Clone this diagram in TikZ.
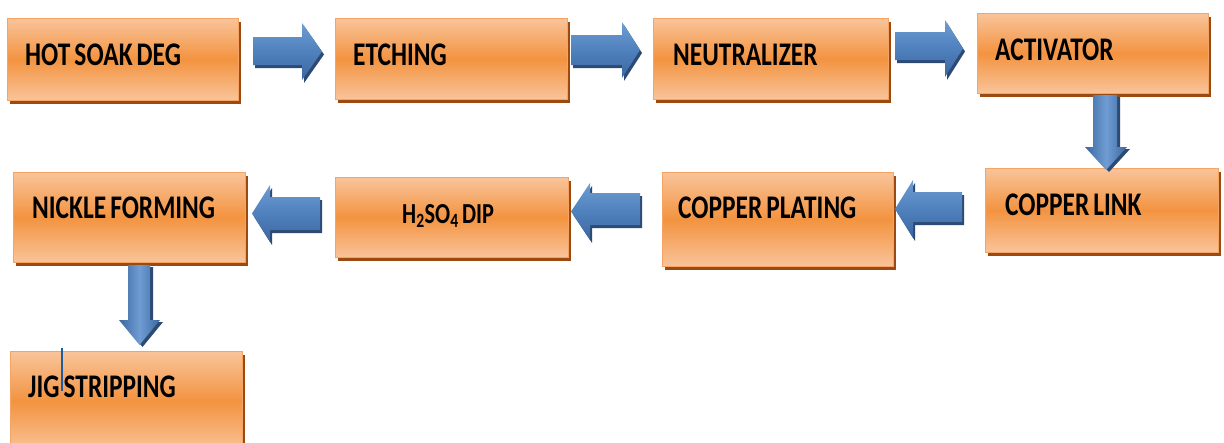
\documentclass[tikz,border=0pt]{standalone}
\usepackage{fontspec}
\setmainfont{Carlito}
\usepackage{graphicx}
\usetikzlibrary{shadows,calc}
\definecolor{boxlight}{HTML}{F9C49A}
\definecolor{boxmid}{HTML}{F39340}
\definecolor{boxborder}{HTML}{F5A465}
\definecolor{boxshadow}{HTML}{9C4A10}
\definecolor{arrlight}{HTML}{6F9DD3}
\definecolor{arrmid}{HTML}{4F81BD}
\definecolor{arrdark}{HTML}{3C67A0}
\definecolor{arrshadow}{HTML}{2C4A74}
\definecolor{cursorblue}{HTML}{1F5C9E}
\newcommand{\sqz}[1]{\scalebox{0.77}[1]{\spaceskip=0.16em\relax #1}}
\newcommand{\myhblock}[7]{%
  \begin{scope}[shift={(2,3)}]
    \fill[arrshadow] (#1,#4) -- (#2,#4) -- (#2,#6) -- (#3,{(#6+#7)/2}) -- (#2,#7) -- (#2,#5) -- (#1,#5) -- cycle;
  \end{scope}
  \shade[top color=arrlight, bottom color=arrdark, middle color=arrmid]
    (#1,#4) -- (#2,#4) -- (#2,#6) -- (#3,{(#6+#7)/2}) -- (#2,#7) -- (#2,#5) -- (#1,#5) -- cycle;}
\newcommand{\myvblock}[7]{%
  \begin{scope}[shift={(3,2)}]
    \fill[arrshadow] (#4,#1) -- (#4,#2) -- (#6,#2) -- ({(#6+#7)/2},#3) -- (#7,#2) -- (#5,#2) -- (#5,#1) -- cycle;
  \end{scope}
  \shade[left color=arrdark, right color=arrdark, middle color=arrlight]
    (#4,#1) -- (#4,#2) -- (#6,#2) -- ({(#6+#7)/2},#3) -- (#7,#2) -- (#5,#2) -- (#5,#1) -- cycle;}
\tikzset{
  procbox/.style={draw=boxborder, line width=0.8pt, anchor=north west, inner sep=0pt,
    top color=boxlight, bottom color=boxlight, middle color=boxmid,
    drop shadow={shadow xshift=3pt, shadow yshift=-4pt, fill=boxshadow, opacity=1}},
  lbl/.style={anchor=base west, inner sep=0pt, text=black,
    font=\fontsize{33}{33}\selectfont\bfseries},
  lblsmall/.style={anchor=base west, inner sep=0pt, text=black,
    font=\fontsize{29}{29}\selectfont\bfseries},
}
\begin{document}
\begin{tikzpicture}[x=1pt,y=-1pt]
\useasboundingbox (0,0) rectangle (1224,442);
\clip (0,0) rectangle (1224,442);
\fill[white] (0,0) rectangle (1224,442);
% boxes
\node[procbox, minimum width=231pt, minimum height=82pt] (b1) at (7,18) {};
\node[procbox, minimum width=232pt, minimum height=81pt] (b2) at (335,18) {};
\node[procbox, minimum width=235pt, minimum height=81pt] (b3) at (653,18) {};
\node[procbox, minimum width=231pt, minimum height=80pt] (b4) at (977,13) {};
\node[procbox, minimum width=233pt, minimum height=84pt] (b5) at (985,168) {};
\node[procbox, minimum width=231pt, minimum height=94pt] (b6) at (662,172) {};
\node[procbox, minimum width=233pt, minimum height=80pt] (b7) at (335,177) {};
\node[procbox, minimum width=232pt, minimum height=90pt] (b8) at (13,172) {};
\node[procbox, minimum width=232pt, minimum height=100pt] (b9) at (10,351) {};
% labels
\node[lbl] (t1) at (25,65) {\sqz{HOT SOAK DEG}};
\node[lbl] (t2) at (353,65) {\sqz{ETCHING}};
\node[lbl] (t3) at (673,65) {\sqz{NEUTRALIZER}};
\node[lbl] (t4) at (995,60) {\sqz{ACTIVATOR}};
\node[lbl] (t5) at (1005,215) {\sqz{COPPER LINK}};
\node[lbl] (t6) at (678,218) {\sqz{COPPER PLATING}};
\node[lblsmall] (t7) at (402,223) {\sqz{H\textsubscript{2}SO\textsubscript{4} DIP}};
\node[lbl] (t8) at (32,218) {\sqz{NICKLE FORMING}};
\node[lbl] (t9) at (28,397) {\sqz{JIG STRIPPING}};
% block arrows
\myhblock{253}{302}{322}{37}{65}{23}{80}
\myhblock{571}{622}{640}{35}{65}{22}{78}
\myhblock{895}{945}{963}{32}{60}{20}{77}
\myvblock{95}{147}{170}{1093}{1117}{1085}{1127}
\myhblock{962}{913}{895}{192}{222}{180}{238}
\myhblock{640}{590}{571}{193}{225}{183}{240}
\myhblock{320}{270}{252}{197}{230}{185}{242}
\myvblock{265}{320}{345}{128}{150}{119}{160}
% cursor mark
\draw[cursorblue, line width=1.6pt] (62,348) -- (62,391);
\end{tikzpicture}
\end{document}
